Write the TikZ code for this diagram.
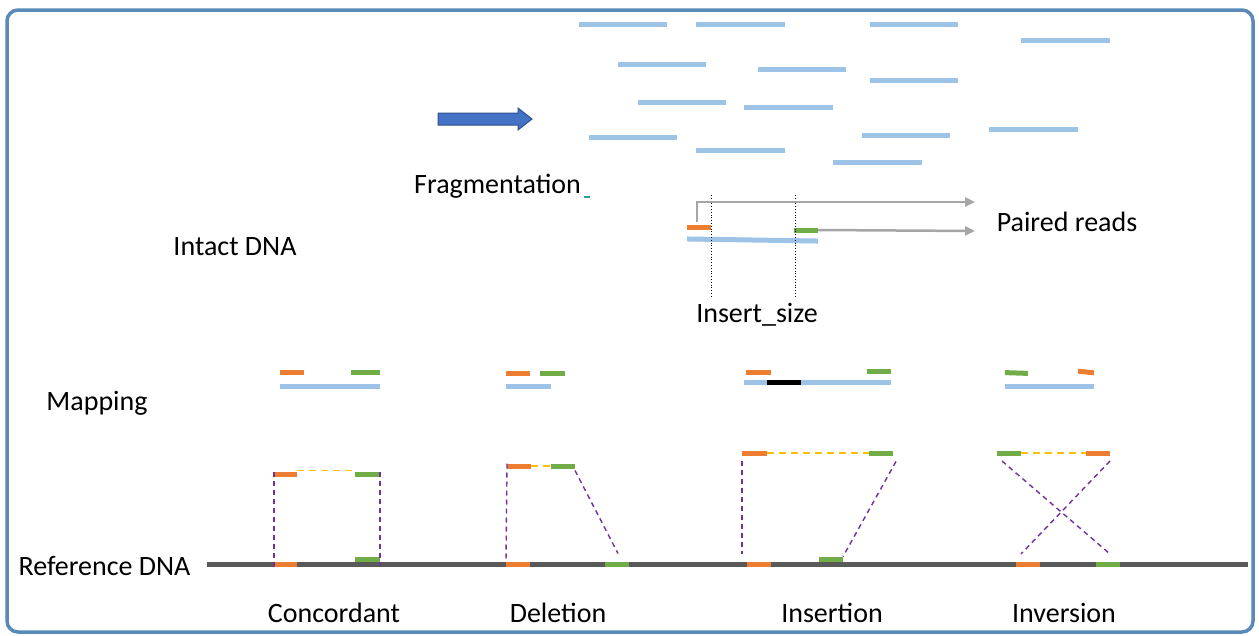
\documentclass[tikz,border=0pt]{standalone}
\usepackage{fontspec}
\setmainfont{Carlito}
\usetikzlibrary{arrows.meta}
\definecolor{frame}{HTML}{5A8AB8}
\definecolor{readblue}{HTML}{9DC3E6}
\definecolor{readorange}{HTML}{ED7D31}
\definecolor{readgreen}{HTML}{70AD47}
\definecolor{pairyellow}{HTML}{FFC000}
\definecolor{mappurple}{HTML}{7030A0}
\definecolor{refgray}{HTML}{595959}
\definecolor{guidegray}{HTML}{A6A6A6}
\definecolor{arrowfill}{HTML}{4472C4}
\definecolor{arrowedge}{HTML}{2F528F}
\definecolor{teal}{HTML}{2E9C9C}
\tikzset{
  readbar/.style={inner sep=0pt, outer sep=0pt, minimum height=5pt, draw=none},
  label/.style={font=\fontsize{28}{32}\selectfont, inner sep=0pt},
  pairlink/.style={pairyellow, line width=1.5pt, dash pattern=on 7pt off 5pt},
  maplink/.style={mappurple, line width=1.4pt, dash pattern=on 5pt off 4pt},
  guide/.style={guidegray, line width=2.5pt, -{Triangle[length=10pt,width=9pt]}},
  insertmark/.style={black, line width=0.8pt, dotted},
}
% a read: name, left x, right x, y, colour
\newcommand\rd[5]{\node[readbar, fill=#5, minimum width={#3-#2}] (#1) at ({(#2+#3)/2},#4) {};}
\begin{document}
\begin{tikzpicture}[x=1pt, y=-1pt]
\useasboundingbox (0,0) rectangle (1259,635);
\fill[white] (0,0) rectangle (1259,635);
\draw[frame, line width=3.5pt, rounded corners=11pt] (7,10) rectangle (1253,632);

% fragmented DNA
\rd{f1}{579}{667}{24}{readblue}
\rd{f2}{696}{785}{24}{readblue}
\rd{f3}{870}{958}{24}{readblue}
\rd{f4}{1021}{1110}{40}{readblue}
\rd{f5}{618}{706}{64}{readblue}
\rd{f6}{758}{846}{69}{readblue}
\rd{f7}{870}{958}{80}{readblue}
\rd{f8}{638}{726}{102}{readblue}
\rd{f9}{744}{833}{107}{readblue}
\rd{f10}{989}{1078}{129}{readblue}
\rd{f11}{862}{950}{135}{readblue}
\rd{f12}{589}{677}{137}{readblue}
\rd{f13}{696}{785}{150}{readblue}
\rd{f14}{833}{922}{162}{readblue}

% fragmentation arrow
\draw[arrowedge, fill=arrowfill, line width=1pt, line join=miter]
  (438,113) -- (518,113) -- (518,108) -- (532,119) -- (518,130) -- (518,125) -- (438,125) -- cycle;
\node[label, anchor=west] (fragtext) at (414,186) {Fragmentation};
\draw[teal, line width=1.2pt] (584,197) -- (590,197);

\node[label] (intact) at (235,247) {Intact DNA};

% paired reads
\node[readbar, fill=readblue, minimum width=131, rotate=-0.9] (pfrag) at (752.5,240) {};
\rd{pl}{687}{711}{227}{readorange}
\rd{pr}{794}{818}{230}{readgreen}
\coordinate (ins1t) at (711,195);
\coordinate (ins1b) at (711,296);
\coordinate (ins2t) at (795,195);
\coordinate (ins2b) at (795,296);
\draw[insertmark] (ins1t) -- (ins1b);
\draw[insertmark] (ins2t) -- (ins2b);
\coordinate (tip1) at (975,202);
\coordinate (tip2) at (975,231);
\draw[guide] ([xshift=10pt,yshift=3pt]pl.north west) |- (tip1);
\draw[guide] (pr.east) -- (tip2);
\node[label] (paired) at (1067,222) {Paired reads};
\node[label] (insert) at (757,315) {Insert\_size};

\node[label] (mapping) at (97,403) {Mapping};
\node[label] (refdna) at (104.5,566) {Reference DNA};

% reference
\coordinate (refL) at (207,564);
\coordinate (refR) at (1248,564);
\draw[refgray, line width=5pt] (refL) -- (refR);

% concordant
\rd{cmo}{280}{304}{372}{readorange}
\rd{cmg}{351}{380}{372}{readgreen}
\rd{cmb}{280}{380}{386}{readblue}
\rd{cuo}{274}{297}{474}{readorange}
\rd{cug}{355}{380}{474}{readgreen}
\rd{cro}{274}{297}{564}{readorange}
\rd{crg}{355}{380}{559}{readgreen}
\draw[pairlink] ([yshift=1pt]cuo.north east) -- ([yshift=1pt]cug.north west);
\draw[maplink] (cuo.north west) -- (cro.south west);
\draw[maplink] (cug.north east) -- ([yshift=-4pt]crg.south east);
\node[label] (conc) at (334,613) {Concordant};

% deletion
\rd{dmo}{506}{530}{373}{readorange}
\rd{dmg}{540}{565}{373}{readgreen}
\rd{dmb}{506}{551}{386}{readblue}
\rd{duo}{507}{531}{466}{readorange}
\rd{dug}{551}{575}{466}{readgreen}
\rd{dro}{506}{530}{564}{readorange}
\rd{drg}{605}{629}{564}{readgreen}
\draw[pairlink] (duo.east) -- (dug.west);
\draw[maplink] (duo.north west) -- (dro.north west);
\draw[maplink] ([yshift=-2pt]dug.south east) -- ([xshift=13pt,yshift=8pt]drg.north west);
\node[label] (del) at (558,613) {Deletion};

% insertion
\rd{imo}{746}{771}{372}{readorange}
\rd{img}{867}{891}{371}{readgreen}
\rd{imb}{744}{891}{382}{readblue}
\rd{imx}{767}{801}{382}{black}
\rd{iuo}{742}{767}{453}{readorange}
\rd{iug}{869}{893}{453}{readgreen}
\rd{iro}{747}{771}{564}{readorange}
\rd{irg}{819}{843}{559}{readgreen}
\coordinate (iend) at (742,554);
\draw[pairlink] (iuo.east) -- (iug.west);
\draw[maplink] ([yshift=-5pt]iuo.south west) -- (iend);
\draw[maplink] ([xshift=3pt,yshift=-6pt]iug.south east) -- (irg.north east);
\node[label] (ins) at (832,613) {Insertion};

% inversion
\node[readbar, fill=readgreen, minimum width=23, rotate=-2] (vmg) at (1016.5,373) {};
\node[readbar, fill=readorange, minimum width=16, rotate=-6] (vmo) at (1086,372) {};
\rd{vmb}{1005}{1094}{386}{readblue}
\rd{vug}{997}{1021}{453}{readgreen}
\rd{vuo}{1086}{1110}{453}{readorange}
\rd{vro}{1016}{1040}{564}{readorange}
\rd{vrg}{1096}{1120}{564}{readgreen}
\draw[pairlink] (vug.east) -- (vuo.west);
\draw[maplink] ([xshift=5pt,yshift=-5.5pt]vug.south west) -- ([xshift=-10pt,yshift=7.5pt]vrg.north east);
\draw[maplink] ([yshift=-5.5pt]vuo.south east) -- ([xshift=5pt,yshift=7.5pt]vro.north west);
\node[label] (inv) at (1064,613) {Inversion};
\end{tikzpicture}
\end{document}
